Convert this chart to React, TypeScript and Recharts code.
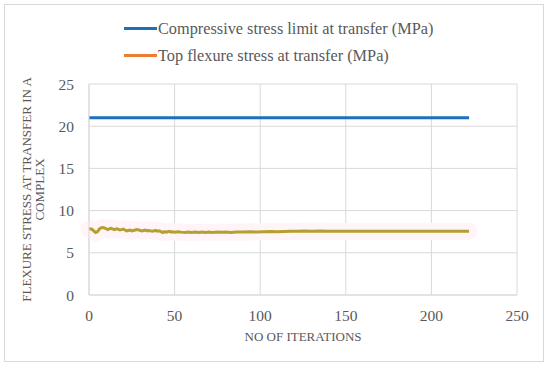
import React from "react";
import { LineChart, Line, XAxis, YAxis, CartesianGrid, Label } from "recharts";

const xTicks = [0, 50, 100, 150, 200, 250];
const yTicks = [0, 5, 10, 15, 20, 25];

const limitIterations = [0, 222];
const limitStress = [21, 21];

const flexIterations = [
  0, 1, 2, 3, 4, 5, 6, 7, 8, 9, 10, 11, 12, 13, 14, 15, 16, 17, 18, 19, 20, 21, 22, 23, 24, 25,
  26, 27, 28, 29, 30, 31, 32, 33, 34, 35, 36, 37, 38, 39, 40, 41, 42, 43, 44, 45, 46, 47, 48, 49,
  50, 52, 54, 56, 58, 60, 62, 64, 66, 68, 70, 72, 75, 78, 80, 83, 86, 90, 94, 98, 102, 106, 110,
  114, 118, 122, 126, 130, 135, 140, 145, 150, 155, 160, 165, 170, 175, 180, 185, 190, 195, 200,
  205, 210, 215, 220, 222,
];
const flexStress = [
  7.8, 7.85, 7.75, 7.55, 7.4, 7.5, 7.8, 7.95, 8.0, 7.95, 7.85, 7.75, 7.85, 7.9, 7.8, 7.75, 7.85,
  7.8, 7.7, 7.75, 7.8, 7.7, 7.6, 7.65, 7.7, 7.6, 7.65, 7.7, 7.75, 7.7, 7.65, 7.6, 7.65, 7.7, 7.6,
  7.65, 7.6, 7.55, 7.6, 7.65, 7.55, 7.6, 7.5, 7.4, 7.5, 7.45, 7.5, 7.55, 7.45, 7.5,
  7.45, 7.5, 7.45, 7.42, 7.45, 7.4, 7.45, 7.42, 7.45, 7.4, 7.45, 7.42, 7.45, 7.43, 7.45, 7.42,
  7.47, 7.45, 7.48, 7.47, 7.5, 7.52, 7.5, 7.53, 7.55, 7.55, 7.57, 7.55, 7.57, 7.56, 7.55, 7.56,
  7.55, 7.55, 7.54, 7.55, 7.54, 7.55, 7.54, 7.55, 7.55, 7.54, 7.55, 7.55, 7.54, 7.55, 7.55,
];

const limitData = limitIterations.map((it, i) => ({ it, v: limitStress[i] }));
const flexData = flexIterations.map((it, i) => ({ it, v: flexStress[i] }));

const legendItems = [
  { name: "Compressive stress limit at transfer (MPa)", color: "#1f6fbf" },
  { name: "Top flexure stress at transfer (MPa)", color: "#ed7d31" },
];

const FONT = "Liberation Serif";
const TEXT = "#595959";
const GRID = "#d9d9d9";

const tickStyle = { fontSize: 15.5, fill: TEXT, fontFamily: FONT };

function YTitle({ viewBox }: any) {
  const cx = 33;
  const cy = viewBox.y + viewBox.height / 2;
  return (
    <text
      transform={`rotate(-90, ${cx}, ${cy})`}
      x={cx}
      y={cy}
      textAnchor="middle"
      fill={TEXT}
      fontSize={13}
      fontFamily={FONT}
    >
      <tspan x={cx} dy={-2}>FLEXURE STRESS AT TRANSFER IN A</tspan>
      <tspan x={cx} dy={13}>COMPLEX</tspan>
    </text>
  );
}

export default function App() {
  return (
    <div style={{ position: "absolute", left: 0, top: 0, width: 550, height: 367, background: "#fff" }}>
      <div
        style={{
          position: "absolute",
          left: 4,
          top: 4,
          width: 540,
          height: 358,
          border: `1px solid ${GRID}`,
          boxSizing: "border-box",
        }}
      />
      <div style={{ position: "absolute", left: 124, top: 15, fontFamily: FONT, fontSize: 16.3, color: TEXT }}>
        {legendItems.map((item) => (
          <div key={item.name} style={{ display: "flex", alignItems: "center", height: 27 }}>
            <span style={{ display: "inline-block", width: 33, height: 3, background: item.color, marginRight: 1 }} />
            <span>{item.name}</span>
          </div>
        ))}
      </div>
      <LineChart
        width={550}
        height={367}
        margin={{ top: 84, right: 33, bottom: 0, left: 0 }}
        style={{ position: "absolute", left: 0, top: 0 }}
      >
        <CartesianGrid stroke={GRID} strokeWidth={1} />
        <XAxis
          type="number"
          dataKey="it"
          domain={[0, 250]}
          ticks={xTicks}
          tickLine={false}
          axisLine={{ stroke: GRID }}
          tick={tickStyle}
          tickMargin={9}
          height={72}
          allowDuplicatedCategory={false}
        >
          <Label
            value="NO OF ITERATIONS"
            position="insideBottom"
            offset={26}
            fill={TEXT}
            fontSize={13}
            fontFamily={FONT}
          />
        </XAxis>
        <YAxis
          type="number"
          domain={[0, 25]}
          ticks={yTicks}
          tickLine={false}
          axisLine={{ stroke: GRID }}
          tick={tickStyle}
          tickMargin={9}
          width={89}
        >
          <Label content={<YTitle />} />
        </YAxis>
        <Line
          data={flexData}
          dataKey="v"
          stroke="#fff4f8"
          strokeWidth={17}
          dot={false}
          strokeLinecap="round"
          isAnimationActive={false}
          legendType="none"
        />
        <Line
          data={limitData}
          dataKey="v"
          name={legendItems[0].name}
          stroke={legendItems[0].color}
          strokeWidth={3}
          dot={false}
          isAnimationActive={false}
        />
        <Line
          data={flexData}
          dataKey="v"
          name={legendItems[1].name}
          stroke="#b59f2e"
          strokeWidth={3}
          dot={false}
          isAnimationActive={false}
        />
      </LineChart>
    </div>
  );
}
